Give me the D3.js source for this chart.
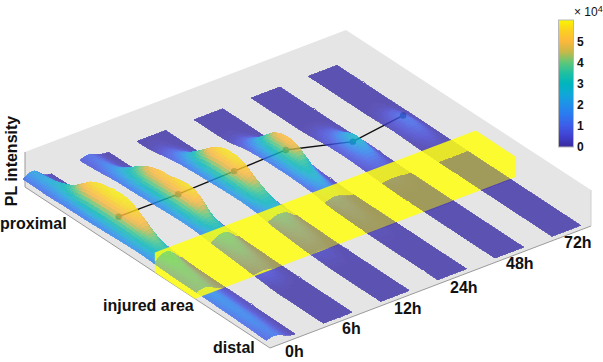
<!DOCTYPE html>
<html>
<head>
<meta charset="utf-8">
<script src="https://cdn.jsdelivr.net/npm/d3@7"></script>
<style>
  html, body { margin: 0; padding: 0; background: #fff; }
  svg { display: block; }
  text { font-family: "Liberation Sans", Arial, sans-serif; fill: #111; }
  .lab { font-size: 16px; font-weight: bold; }
</style>
</head>
<body>
<div id="chart"></div>
<script>
const timeLabels = ["0h", "6h", "12h", "24h", "48h", "72h"];

// position along the nerve, proximal (0) to distal (1), for every row below
const vRows = [0, .05, .1, .15, .2, .25, .3, .35, .4, .45, .5, .55, .6, .7, .8, .9, 1];

// surface height, one row per vRows, columns go across the strip (near side first)
const strip0h = [
  [1.0, 1.5, 1.9, 1.5, .6, .2, .1],
  [1.0, 1.6, 2.0, 1.7, .8, .2, .1],
  [.9, 1.6, 2.2, 2.2, 1.6, .4, .1],
  [1.0, 1.8, 2.6, 3.0, 3.0, 1.2, .3],
  [1.0, 2.0, 3.3, 4.6, 5.4, 4.2, 1.5],
  [1.0, 2.1, 3.5, 4.8, 5.9, 5.2, 2.2],
  [1.1, 2.2, 3.6, 5.0, 5.9, 5.9, 3.0],
  [1.2, 2.2, 3.6, 5.0, 5.8, 5.7, 2.5],
  [1.3, 2.3, 3.5, 4.6, 5.0, 4.0, 1.5],
  [1.4, 2.3, 3.2, 3.8, 3.6, 2.2, .8],
  [1.4, 2.2, 2.8, 3.0, 2.6, 1.4, .4],
  [1.3, 2.0, 2.5, 2.5, 1.8, .9, .3],
  [1.2, 1.7, 2.0, 1.9, 1.3, .6, .2],
  [1.2, 1.6, 1.6, 1.3, .8, .5, .2],
  [1.1, 1.5, 1.5, 1.2, .7, .4, .2],
  [1.0, 1.4, 1.4, 1.1, .6, .3, .1],
  [.8, 1.2, 1.2, .9, .5, .2, .1]
];
const strip6h = [
  [.5, .9, 1.0, .7, .3, .1, .1],
  [.6, 1.1, 1.2, .8, .4, .1, .1],
  [.8, 1.4, 1.6, 1.1, .5, .2, .1],
  [1.0, 1.8, 2.3, 2.4, 2.6, 1.0, .2],
  [1.0, 2.0, 3.0, 3.6, 4.2, 2.5, .4],
  [1.1, 2.1, 3.3, 4.2, 4.9, 3.2, .5],
  [1.2, 2.2, 3.4, 4.3, 5.0, 3.5, .6],
  [1.3, 2.3, 3.6, 4.8, 5.8, 4.2, .8],
  [1.4, 2.4, 3.7, 4.8, 5.5, 3.6, .8],
  [1.4, 2.4, 3.3, 3.6, 3.0, 1.5, .4],
  [1.3, 2.1, 2.6, 2.7, 2.2, 1.0, .3],
  [1.0, 1.6, 1.9, 1.9, 1.5, .7, .2],
  [.9, 1.4, 1.6, 1.5, 1.1, .5, .2],
  [.5, .7, .8, .7, .4, .2, .1],
  [.1, .1, .1, .1, .1, .1, .1],
  [.1, .1, .1, .1, .1, .1, .1],
  [.1, .1, .1, .1, .1, .1, .1]
];
const strip12h = [
  [.1, .1, .1, .1, .1, .1, .1],
  [.1, .15, .2, .15, .1, .1, .1],
  [.5, .7, .7, .5, .2, .1, .1],
  [.9, 1.4, 1.6, 1.3, .9, .3, .1],
  [1.0, 1.9, 2.8, 3.2, 2.9, 1.0, .2],
  [1.1, 2.2, 3.5, 4.6, 5.5, 3.2, .4],
  [1.2, 2.3, 3.7, 4.9, 5.9, 4.5, .5],
  [1.3, 2.4, 3.7, 4.8, 5.7, 4.0, .5],
  [1.4, 2.4, 3.4, 4.0, 4.2, 2.4, .4],
  [1.4, 2.3, 2.9, 3.0, 2.9, 1.3, .3],
  [1.2, 1.9, 2.3, 2.3, 2.1, 1.0, .2],
  [.8, 1.2, 1.4, 1.4, 1.2, .6, .2],
  [.6, 1.0, 1.2, 1.1, .9, .4, .2],
  [.3, .4, .4, .4, .2, .1, .1],
  [.1, .1, .1, .1, .1, .1, .1],
  [.1, .1, .1, .1, .1, .1, .1],
  [.1, .1, .1, .1, .1, .1, .1]
];
const strip24h = [
  [.1, .1, .1, .1, .1, .1, .1],
  [.1, .1, .1, .1, .1, .1, .1],
  [.1, .1, .1, .1, .1, .1, .1],
  [.2, .3, .4, .3, .1, .1, .1],
  [.7, 1.2, 1.6, 1.4, 1.2, .3, .1],
  [.9, 1.7, 2.8, 3.6, 4.2, 1.5, .2],
  [1.0, 1.9, 3.0, 4.0, 5.0, 2.8, .3],
  [1.0, 2.0, 3.1, 3.9, 4.4, 2.4, .3],
  [1.0, 2.0, 2.7, 2.7, 2.0, .8, .2],
  [.9, 1.8, 2.3, 2.0, 1.3, .5, .2],
  [.8, 1.4, 1.7, 1.4, .9, .3, .1],
  [.4, .7, .8, .7, .4, .2, .1],
  [.3, .5, .6, .5, .3, .1, .1],
  [.15, .2, .2, .2, .1, .1, .1],
  [.1, .1, .1, .1, .1, .1, .1],
  [.1, .1, .1, .1, .1, .1, .1],
  [.1, .1, .1, .1, .1, .1, .1]
];
const strip48h = [
  [.1, .1, .1, .1, .1, .1, .1],
  [.1, .1, .1, .1, .1, .1, .1],
  [.1, .1, .1, .1, .1, .1, .1],
  [.1, .1, .1, .1, .1, .1, .1],
  [.1, .1, .1, .1, .1, .1, .1],
  [.2, .4, .5, .5, .4, .2, .1],
  [.4, .8, 1.2, 1.4, 1.3, .5, .1],
  [.5, 1.1, 1.8, 2.4, 2.6, 1.0, .2],
  [.5, 1.0, 1.5, 1.9, 1.8, .7, .2],
  [.4, .8, 1.0, 1.0, .8, .4, .1],
  [.3, .5, .6, .6, .5, .2, .1],
  [.2, .3, .3, .3, .2, .1, .1],
  [.1, .1, .1, .1, .1, .1, .1],
  [.1, .1, .1, .1, .1, .1, .1],
  [.1, .1, .1, .1, .1, .1, .1],
  [.1, .1, .1, .1, .1, .1, .1],
  [.1, .1, .1, .1, .1, .1, .1]
];
const strip72h = [
  [.1, .1, .1, .1, .1, .1, .1],
  [.1, .1, .1, .1, .1, .1, .1],
  [.1, .1, .1, .1, .1, .1, .1],
  [.1, .1, .1, .1, .1, .1, .1],
  [.1, .1, .1, .1, .1, .1, .1],
  [.1, .15, .2, .25, .2, .1, .1],
  [.2, .4, .7, 1.0, .9, .3, .1],
  [.25, .5, .9, 1.3, 1.2, .4, .1],
  [.2, .4, .6, .8, .7, .3, .1],
  [.1, .2, .3, .4, .3, .2, .1],
  [.1, .1, .1, .1, .1, .1, .1],
  [.1, .1, .1, .1, .1, .1, .1],
  [.1, .1, .1, .1, .1, .1, .1],
  [.1, .1, .1, .1, .1, .1, .1],
  [.1, .1, .1, .1, .1, .1, .1],
  [.1, .1, .1, .1, .1, .1, .1],
  [.1, .1, .1, .1, .1, .1, .1]
];
const strips = [strip0h, strip6h, strip12h, strip24h, strip48h, strip72h];

// height to PL intensity x10^4: the colours run hotter than the surface is tall
const heightStops = [0, 1, 2, 3, 4, 5, 6];
const intensityStops = [0, 1, 2.5, 3.8, 4.9, 5.6, 6];

// the black line through the strips
const peakV = [.335, .345, .34, .318, .358, .33];
const peakZ = [2.9, 3.3, 3.4, 2.7, 1.5, 1.5];

const injuredRange = [.53, .694];
const injuredTop = 3.4;

const colorTicks = [0, 1, 2, 3, 4, 5];
const colorStops = [0, .5, 1, 1.5, 2, 2.5, 3, 3.5, 4, 4.5, 5, 5.5, 6];
const colorValues = ["#3a2a9c", "#4040d0", "#3f5ce8", "#2c78f0", "#2090ea", "#10a8d8", "#00b5bc",
  "#20c0a0", "#5fc878", "#c8b848", "#fdb83c", "#fbd020", "#f9f500"];

const width = 603;
const height = 362;

const svg = d3.select("#chart").append("svg")
  .attr("width", width)
  .attr("height", height);

const blur = svg.append("defs").append("filter").attr("id", "soft")
  .attr("filterUnits", "userSpaceOnUse")
  .attr("x", 0).attr("y", 0)
  .attr("width", width).attr("height", height);
blur.append("feGaussianBlur").attr("stdDeviation", 0.7);

// oblique projection: time runs up to the right, nerve runs down to the right, height goes up
const xU = d3.scaleLinear().domain([0, 1]).range([0, 321]);
const yU = d3.scaleLinear().domain([0, 1]).range([0, -122]);
const xV = d3.scaleLinear().domain([0, 1]).range([25, 270]);
const yV = d3.scaleLinear().domain([0, 1]).range([187, 348]);
const zPx = d3.scaleLinear().domain([0, 6]).range([0, 35]);

function project(u, v, z) {
  return [xU(u) + xV(v), yU(u) + yV(v) - zPx(z)];
}

const timeU = d3.scalePoint().domain(timeLabels).range([0, .89]);
const stripWidth = .09;
const stripV = d3.scaleLinear().domain([0, 1]).range([-.01, .985]);
const color = d3.scaleLinear().domain(colorStops).range(colorValues).clamp(true);
const heat = d3.scaleLinear().domain(heightStops).range(intensityStops).clamp(true);

// floor and walls
svg.append("polygon")
  .attr("points", [project(0, 0, 6), project(1, 0, 6), [591, 190],
    project(1, 1, 0), project(0, 1, 0), project(0, 0, 0)].join(" "))
  .attr("fill", "#e5e5e5");

const edges = svg.append("g").attr("fill", "none").attr("stroke", "#9a9a9a");
edges.append("path").attr("d", d3.line()([project(0, 0, 6), project(0, 0, 0), project(0, 1, 0), project(1, 1, 0)]));
edges.append("path").attr("d", d3.line()([[591, 190], project(1, 1, 0)])).attr("stroke", "#d0d0d0");

// read the grid at any spot, softened a little so the rows and columns don't show as creases
function surfaceAt(grid, colPos, vPos) {
  const cols = grid[0].length - 1;
  const rowScale = d3.scaleLinear().domain(vRows).range(d3.range(vRows.length)).clamp(true);
  const raw = (c, v) => {
    const cc = Math.max(0, Math.min(cols, c));
    const rr = rowScale(v);
    const c0 = Math.min(cols - 1, Math.floor(cc));
    const r0 = Math.min(vRows.length - 2, Math.floor(rr));
    const top = d3.interpolateNumber(grid[r0][c0], grid[r0][c0 + 1])(cc - c0);
    const bot = d3.interpolateNumber(grid[r0 + 1][c0], grid[r0 + 1][c0 + 1])(cc - c0);
    return d3.interpolateNumber(top, bot)(rr - r0);
  };
  const spots = [-.5, 0, .5];
  return d3.mean(spots.flatMap((dc) => spots.map((dv) => raw(colPos + dc, vPos + dv * .04))));
}

// one strip as small quads, far ones first so near ones paint over them
function stripQuads(k, vMin, vMax) {
  const grid = strips[k];
  const u0 = timeU(timeLabels[k]);
  const cols = grid[0].length - 1;
  const stepsU = cols * 3;
  const stepsV = 80;
  const quads = [];
  for (let i = 0; i < stepsV; i++) {
    const vA = i / stepsV;
    const vB = (i + 1) / stepsV;
    if (vB <= vMin + 1e-6 || vA >= vMax - 1e-6) continue;
    for (let j = 0; j < stepsU; j++) {
      const cA = cols * j / stepsU;
      const cB = cols * (j + 1) / stepsU;
      const uA = u0 + stripWidth * cA / cols;
      const uB = u0 + stripWidth * cB / cols;
      const zs = [surfaceAt(grid, cA, vA), surfaceAt(grid, cB, vA), surfaceAt(grid, cB, vB), surfaceAt(grid, cA, vB)];
      quads.push({
        depth: project((uA + uB) / 2, stripV((vA + vB) / 2), 0)[1],
        fill: color(heat(d3.mean(zs))),
        pts: [
          project(uA, stripV(vA), zs[0]), project(uB, stripV(vA), zs[1]),
          project(uB, stripV(vB), zs[2]), project(uA, stripV(vB), zs[3])
        ]
      });
    }
  }
  return quads.sort((a, b) => a.depth - b.depth);
}

function drawSurfaces(parent, vMin, vMax) {
  const all = d3.range(strips.length - 1, -1, -1).flatMap((k) => stripQuads(k, vMin, vMax));
  parent.selectAll("polygon")
    .data(all)
    .enter()
    .append("polygon")
    .attr("points", (d) => d.pts.join(" "))
    .attr("fill", (d) => d.fill)
    .attr("stroke", (d) => d.fill)
    .attr("stroke-width", 0.8)
    .attr("shape-rendering", "crispEdges");
}

// line and dots sit under the see-through surfaces
const peaks = timeLabels.map((t, i) => project(timeU(t) + stripWidth / 2, stripV(peakV[i]), peakZ[i]));
svg.append("path")
  .attr("d", d3.line()(peaks))
  .attr("fill", "none")
  .attr("stroke", "#111")
  .attr("stroke-width", 1.4);
svg.append("g").selectAll("circle")
  .data(peaks)
  .enter()
  .append("circle")
  .attr("cx", (d) => d[0])
  .attr("cy", (d) => d[1])
  .attr("r", 3.2)
  .attr("fill", "#1c5a50");

drawSurfaces(svg.append("g").attr("opacity", 0.8).attr("filter", "url(#soft)"), 0, 1);

// yellow injured block
const [vA, vB] = injuredRange.map(stripV.invert);
svg.append("polygon")
  .attr("points", [project(0, stripV(vA), injuredTop), project(1, stripV(vA), injuredTop),
    project(1, stripV(vB), injuredTop), project(1, stripV(vB), 0),
    project(0, stripV(vB), 0), project(0, stripV(vA), 0)].join(" "))
  .attr("fill", "#ffff10")
  .attr("opacity", 0.85);

drawSurfaces(svg.append("g").attr("opacity", 0.4).attr("filter", "url(#soft)"), vA, vB);

// labels
svg.append("text").attr("class", "lab").attr("transform", "translate(16.5,161) rotate(-90)")
  .attr("text-anchor", "middle").text("PL intensity");
svg.append("text").attr("class", "lab").attr("x", 0).attr("y", 229).text("proximal");
svg.append("text").attr("class", "lab").attr("x", 103).attr("y", 311).text("injured area");
svg.append("text").attr("class", "lab").attr("x", 213).attr("y", 353).text("distal");

const labelX = [285, 342, 394, 450, 506, 564];
const labelY = [357, 334, 314, 293, 269, 248];
svg.append("g").selectAll("text")
  .data(timeLabels)
  .enter()
  .append("text")
  .attr("class", "lab")
  .attr("x", (d, i) => labelX[i])
  .attr("y", (d, i) => labelY[i])
  .text((d) => d);

// colorbar
const barY = d3.scaleLinear().domain([0, 6]).range([147, 20]);
const grad = svg.select("defs").append("linearGradient").attr("id", "bar")
  .attr("x1", 0).attr("x2", 0).attr("y1", 1).attr("y2", 0);
grad.selectAll("stop")
  .data(colorStops)
  .enter()
  .append("stop")
  .attr("offset", (d) => d / 6)
  .attr("stop-color", (d) => color(d));
svg.append("rect")
  .attr("x", 558.5)
  .attr("y", barY(6))
  .attr("width", 15)
  .attr("height", barY(0) - barY(6))
  .attr("fill", "url(#bar)")
  .attr("stroke", "#b8b8b8")
  .attr("stroke-width", 1);

const barAxis = svg.append("g")
  .attr("transform", "translate(574,0)")
  .call(d3.axisRight(barY).tickValues(colorTicks).tickFormat(d3.format("d")).tickSize(0).tickPadding(3));
barAxis.select(".domain").remove();
barAxis.selectAll("text")
  .style("font-family", '"Liberation Sans", Arial, sans-serif')
  .style("font-size", "12px")
  .style("font-weight", "bold")
  .attr("fill", "#222");

const mult = svg.append("text").attr("x", 574).attr("y", 16).style("font-size", "12px");
mult.append("tspan").text("× 10");
mult.append("tspan").attr("dy", -4).style("font-size", "9px").text("4");
</script>
</body>
</html>
